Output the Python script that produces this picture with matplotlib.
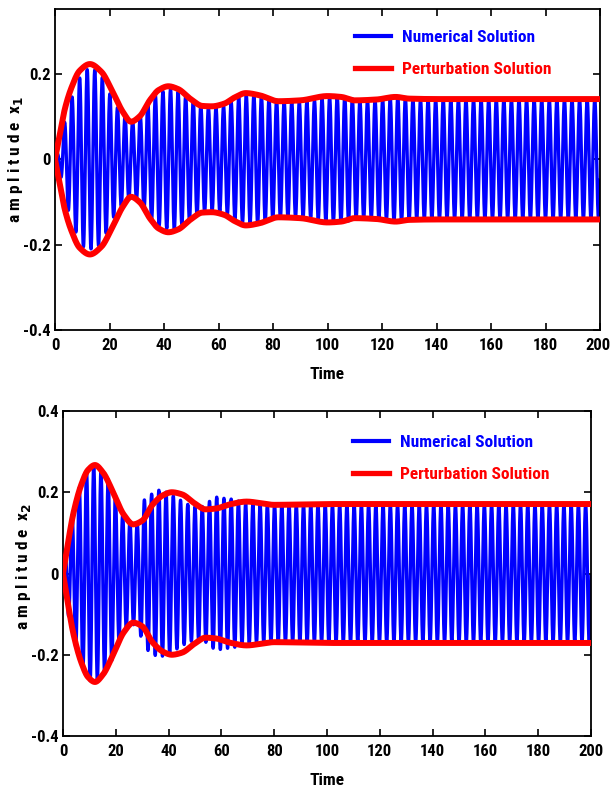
import numpy as np
import matplotlib
matplotlib.use("Agg")
import matplotlib.pyplot as plt
from matplotlib import font_manager
from matplotlib.transforms import ScaledTranslation

# ---------------- data ----------------
# Top panel (x1): perturbation envelope (red)
t_pert1 = [0, 1.2, 3.7, 6, 9, 12.8, 17, 21, 25, 27.9, 31, 35, 38, 41.6, 45, 50, 54, 57.5, 62, 66, 70, 75, 82, 90, 100, 105, 110, 118, 125, 130, 140, 200]
a_pert1 = [0, 0.04, 0.12, 0.167, 0.207, 0.223, 0.205, 0.16, 0.11, 0.088, 0.10, 0.14, 0.162, 0.171, 0.165, 0.14, 0.125, 0.124, 0.13, 0.145, 0.155, 0.15, 0.136, 0.138, 0.148, 0.146, 0.138, 0.14, 0.146, 0.142, 0.141, 0.141]
# Top panel (x1): numerical solution envelope (blue)
t_num1 = [0, 1.5, 4, 6.5, 9, 11.5, 14, 17, 20, 23, 26, 28.5, 31, 34, 37, 40, 43, 46, 50, 54, 58, 62, 66, 70, 74, 80, 86, 92, 100, 105, 112, 120, 126, 132, 200]
a_num1 = [0, 0.025, 0.10, 0.15, 0.19, 0.21, 0.21, 0.195, 0.155, 0.12, 0.10, 0.09, 0.10, 0.13, 0.15, 0.16, 0.165, 0.155, 0.14, 0.125, 0.12, 0.125, 0.14, 0.15, 0.15, 0.14, 0.135, 0.135, 0.145, 0.148, 0.138, 0.14, 0.146, 0.14, 0.14]
period1 = 2.78

# Bottom panel (x2): perturbation envelope (red)
t_pert2 = [0, 1.5, 4, 7, 9.5, 12.1, 15, 19, 23, 26.6, 30, 34, 38, 41.2, 45, 50, 54, 58, 63, 69.6, 75, 80, 90, 100, 200]
a_pert2 = [0, 0.06, 0.15, 0.22, 0.255, 0.267, 0.25, 0.2, 0.145, 0.121, 0.13, 0.17, 0.193, 0.20, 0.195, 0.172, 0.158, 0.16, 0.17, 0.177, 0.173, 0.169, 0.17, 0.171, 0.171]
# Bottom panel (x2): numerical solution envelope (blue)
t_num2 = [0, 0.5, 3.3, 6.1, 8.7, 11.2, 14, 16.8, 19.7, 22.4, 25, 27.9, 30.7, 33.5, 36.3, 39.2, 42, 44.6, 47.3, 50.1, 52.9, 55.6, 58.4, 61, 64, 70, 80, 90, 100, 200]
a_num2 = [0, 0.04, 0.14, 0.21, 0.25, 0.267, 0.255, 0.235, 0.195, 0.145, 0.13, 0.125, 0.18, 0.195, 0.205, 0.2, 0.19, 0.18, 0.17, 0.165, 0.165, 0.178, 0.188, 0.185, 0.183, 0.172, 0.17, 0.17, 0.17, 0.17]
period2 = 2.74

x_ticks = [0, 20, 40, 60, 80, 100, 120, 140, 160, 180, 200]
y_ticks1 = [-0.4, -0.2, 0, 0.2]
y_ticks2 = [-0.4, -0.2, 0, 0.2, 0.4]
y_ticklabels1 = ["-0.4", "-0.2", "0", "0.2"]
y_ticklabels2 = ["-0.4", "-0.2", "0", "0.2", "0.4"]

# ---------------- fonts ----------------
names = {f.name for f in font_manager.fontManager.ttflist}
narrow = None
for cand in ['Liberation Sans Narrow', 'Roboto Condensed', 'Open Sans Condensed', 'DejaVu Sans Condensed', 'Noto Sans Condensed']:
    if cand in names:
        narrow = cand
        break
if narrow is None:
    for n in sorted(names):
        if 'Narrow' in n or 'Condensed' in n:
            narrow = n
            break
CONDENSED = narrow is not None
fam = [narrow, 'DejaVu Sans'] if CONDENSED else ['Liberation Sans', 'DejaVu Sans']
plt.rcParams['font.family'] = fam
plt.rcParams['font.weight'] = 'bold'

TICK_FS = 12 if CONDENSED else 10.5
LAB_FS = 12.5 if CONDENSED else 11
LEG_FS = 12.5 if CONDENSED else 10.5

BLUE = '#0000ff'
RED = '#ff0000'


def pchip(x, y, xn):
    x = np.asarray(x, float)
    y = np.asarray(y, float)
    h = np.diff(x)
    d = np.diff(y) / h
    m = np.zeros_like(y)
    m[0] = d[0]
    m[-1] = d[-1]
    for k in range(1, len(x) - 1):
        if d[k - 1] * d[k] <= 0:
            m[k] = 0.0
        else:
            w1 = 2 * h[k] + h[k - 1]
            w2 = h[k] + 2 * h[k - 1]
            m[k] = (w1 + w2) / (w1 / d[k - 1] + w2 / d[k])
    idx = np.clip(np.searchsorted(x, xn) - 1, 0, len(x) - 2)
    s = (xn - x[idx]) / h[idx]
    h00 = 2 * s**3 - 3 * s**2 + 1
    h10 = s**3 - 2 * s**2 + s
    h01 = -2 * s**3 + 3 * s**2
    h11 = s**3 - s**2
    return h00 * y[idx] + h10 * h[idx] * m[idx] + h01 * y[idx + 1] + h11 * h[idx] * m[idx + 1]


fig = plt.figure(figsize=(6.12, 7.91), dpi=100)
ax1 = fig.add_axes([55/612, 1-330/791, (600-55)/612, (330-9)/791])
ax2 = fig.add_axes([63/612, 1-736/791, (591-63)/612, (736-411)/791])


def panel(ax, tp, ap, tn, an, period, yticks, yticklabels, ylim, ylabel, leg_anchor, ylab_xy):
    t = np.linspace(0, 200, 20001)
    env_n = pchip(tn, an, t)
    env_p = pchip(tp, ap, t)
    ax.plot(t, env_n * np.sin(2*np.pi*t/period), color=BLUE, lw=2.4, label='Numerical Solution', zorder=2)
    ax.plot(t, env_p, color=RED, lw=4.3, label='Perturbation Solution', zorder=3)
    ax.plot(t, -env_p, color=RED, lw=4.3, zorder=3)
    ax.set_xlim(0, 200)
    ax.set_ylim(*ylim)
    ax.set_xticks(x_ticks)
    ax.set_xticklabels([str(v) for v in x_ticks])
    ax.set_yticks(yticks)
    ax.set_yticklabels(yticklabels)
    ax.tick_params(direction='in', length=5, width=1.2, top=True, right=True, labelsize=TICK_FS)
    ax.tick_params(axis='x', pad=6)
    ax.tick_params(axis='y', pad=3)
    for s in ax.spines.values():
        s.set_linewidth(1.3)
    ax.set_xlabel('Time', fontsize=LAB_FS, fontweight='bold', labelpad=10)
    ax.set_ylabel(ylabel, fontsize=LAB_FS, fontweight='bold')
    ax.yaxis.set_label_coords(*ylab_xy)
    leg = ax.legend(loc='upper left', bbox_to_anchor=leg_anchor, frameon=False, fontsize=LEG_FS,
                    handlelength=2.1, handletextpad=0.6, labelspacing=0.95,
                    borderpad=0, borderaxespad=0)
    for txt, c in zip(leg.get_texts(), [BLUE, RED]):
        txt.set_color(c)
    hl = leg.legend_handles
    hl[0].set_linewidth(3.0)
    hl[1].set_linewidth(3.8)

panel(ax1, t_pert1, a_pert1, t_num1, a_num1, period1, y_ticks1, y_ticklabels1, (-0.4, 0.352),
      'a m p l i t u d e  x$_1$', ((355-55)/545, 1-(30-9)/321), ((25-55)/545, 0.53))
panel(ax2, t_pert2, a_pert2, t_num2, a_num2, period2, y_ticks2, y_ticklabels2, (-0.4, 0.4),
      'a m p l i t u d e  x$_2$', ((353-63)/528, 1-(435-411)/325), ((33-63)/528, 0.52))

# keep the last x tick label of the top panel inside the canvas
last = ax1.get_xticklabels()[-1]
last.set_transform(last.get_transform() + ScaledTranslation(-2/100, 0, fig.dpi_scale_trans))

fig.savefig('out.png', dpi=100)
